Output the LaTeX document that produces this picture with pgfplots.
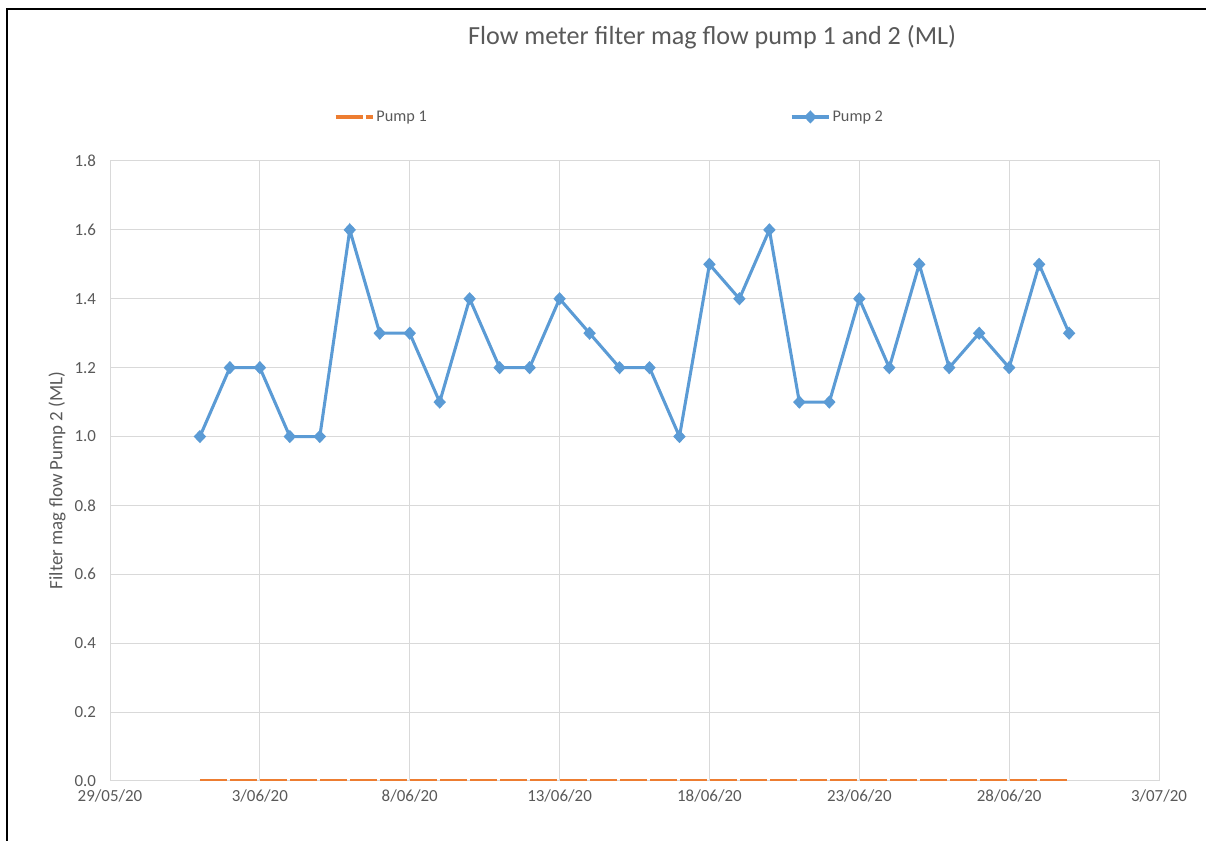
\documentclass[border=0pt]{standalone}
\usepackage{pgfplots}
\pgfplotsset{compat=1.18}
\usepackage{fontspec}
\setmainfont{Carlito}
\definecolor{pumpone}{HTML}{ED7D31}
\definecolor{pumptwo}{HTML}{5B9BD5}
\definecolor{gridc}{HTML}{D9D9D9}
\definecolor{txt}{HTML}{595959}
\begin{document}
\begin{tikzpicture}
\path[use as bounding box] (0,0) rectangle (904.5pt,630.75pt);
\draw[line width=1.5pt,black] (5pt,0pt) -- (5pt,623.7pt) -- (904.5pt,623.7pt);
\begin{axis}[
  at={(82.5pt,45pt)}, anchor=south west,
  width=786.75pt, height=465pt, scale only axis,
  xmin=0, xmax=35, ymin=0, ymax=1.8,
  xtick={0,5,...,35},
  xticklabels={29/05/20,3/06/20,8/06/20,13/06/20,18/06/20,23/06/20,28/06/20,3/07/20},
  ytick={0,0.2,...,1.8},
  yticklabel style={xshift=-7pt, /pgf/number format/.cd,fixed,fixed zerofill,precision=1,assume math mode=true},
  ticklabel style={font=\fontsize{12.7}{14}\selectfont, text=txt},
  xticklabel style={yshift=-3pt},
  grid=major,
  major grid style={gridc, line width=0.75pt},
  axis line style={gridc, line width=0.75pt},
  tick style={draw=none},
  ylabel={Filter mag flow Pump 2 (ML)},
  ylabel style={at={(axis description cs:-0.0505,0.485)}, anchor=center, font=\fontsize{14.2}{16}\selectfont, text=txt},
  title={Flow meter filter mag flow pump 1 and 2 (ML)},
  title style={at={(axis description cs:0.574,1.187)}, anchor=center, font=\fontsize{19.6}{22}\selectfont, text=txt},
  legend columns=2,
  legend style={at={(axis description cs:0.2095,1.071)}, anchor=west, draw=none, fill=none,
    font=\fontsize{12.2}{14}\selectfont, text=txt,
    /tikz/every even column/.append style={column sep=271pt},
    nodes={inner sep=1.5pt}},
  legend cell align=left,
  legend image code/.code={\draw[mark repeat=2,mark phase=2,#1] plot coordinates {(0pt,0pt) (14pt,0pt) (28pt,0pt)};},
]
\addplot[pumpone, line width=2.3pt, dash pattern=on 20.6pt off 1.9pt, mark=none] coordinates {
(3,0) (4,0) (5,0) (6,0) (7,0) (8,0) (9,0) (10,0) (11,0) (12,0) (13,0) (14,0) (15,0) (16,0) (17,0)
(18,0) (19,0) (20,0) (21,0) (22,0) (23,0) (24,0) (25,0) (26,0) (27,0) (28,0) (29,0) (30,0) (31,0) (32,0)
};
\addlegendentry{Pump 1}
\addplot[pumptwo, line width=2.3pt, mark=diamond*, mark size=3.3pt, mark options={solid, xscale=1.25, fill=pumptwo}] coordinates {
(3,1.0) (4,1.2) (5,1.2) (6,1.0) (7,1.0) (8,1.6) (9,1.3) (10,1.3) (11,1.1) (12,1.4)
(13,1.2) (14,1.2) (15,1.4) (16,1.3) (17,1.2) (18,1.2) (19,1.0) (20,1.5) (21,1.4) (22,1.6)
(23,1.1) (24,1.1) (25,1.4) (26,1.2) (27,1.5) (28,1.2) (29,1.3) (30,1.2) (31,1.5) (32,1.3)
};
\addlegendentry{Pump 2}
\end{axis}
\end{tikzpicture}
\end{document}
